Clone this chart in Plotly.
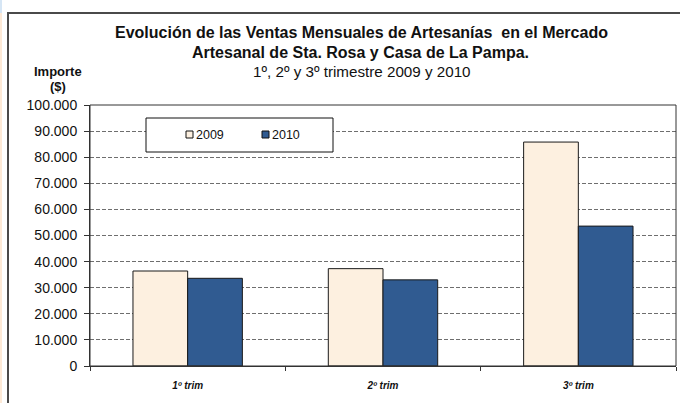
import plotly.graph_objects as go

# Data
categories = ['1º trim', '2º trim', '3º trim']
ventas_2009 = [36400, 37300, 85800]
ventas_2010 = [33600, 33000, 53600]
years = ['2009', '2010']
colors = ['#fdf0e0', '#305b91']
y_ticks = list(range(0, 100001, 10000))
y_ticklabels = ['0' if v == 0 else f'{v:,}'.replace(',', '.') for v in y_ticks]

W, H = 680, 403
L, R, T, B = 90, 4, 105, 37
PW, PH = W - L - R, H - T - B


def px_x(x):
    return (x - L) / PW


def px_y(y):
    return 1 - (y - T) / PH


FONT = 'Liberation Sans, Arial, sans-serif'

fig = go.Figure()
for name, vals, col in zip(years, [ventas_2009, ventas_2010], colors):
    fig.add_trace(go.Bar(
        x=categories, y=vals, name=name,
        marker=dict(color=col, line=dict(color='#1a1a1a', width=1)),
        showlegend=False,
    ))

shapes = [
    # outer chart frame
    dict(type='rect', xref='paper', yref='paper',
         x0=px_x(8), x1=px_x(690), y0=px_y(13), y1=px_y(420),
         line=dict(color='#4a4a4a', width=2), layer='below'),
    # left page strip
    dict(type='rect', xref='paper', yref='paper',
         x0=px_x(0), x1=px_x(2), y0=px_y(13), y1=px_y(403),
         line=dict(width=0), fillcolor='#fde9d6', layer='below'),
    dict(type='rect', xref='paper', yref='paper',
         x0=px_x(0), x1=px_x(2), y0=px_y(0), y1=px_y(13),
         line=dict(width=0), fillcolor='#d6e6f5', layer='below'),
    # plot area border
    dict(type='rect', xref='paper', yref='paper', x0=0, x1=1, y0=0, y1=1,
         line=dict(color='#333333', width=1)),
    # legend box
    dict(type='rect', xref='paper', yref='paper',
         x0=px_x(146), x1=px_x(333), y0=px_y(118), y1=px_y(152),
         line=dict(color='#111111', width=1), fillcolor='white'),
]
annotations = [
    dict(text='<b>Evolución de las Ventas Mensuales de Artesanías  en el Mercado</b>',
         x=px_x(361), y=px_y(33), font=dict(size=16)),
    dict(text='<b>Artesanal de Sta. Rosa y Casa de La Pampa.</b>',
         x=px_x(360), y=px_y(52), font=dict(size=16)),
    dict(text='1º, 2º y 3º trimestre 2009 y 2010',
         x=px_x(362), y=px_y(71), font=dict(size=15.2)),
    dict(text='<b>Importe</b>', x=px_x(58), y=px_y(71), font=dict(size=13)),
    dict(text='<b>($)</b>', x=px_x(58), y=px_y(86), font=dict(size=13)),
]

# legend entries
leg_x = [186, 262]
for name, col, lx in zip(years, colors, leg_x):
    shapes.append(dict(type='rect', xref='paper', yref='paper',
                       x0=px_x(lx), x1=px_x(lx + 7), y0=px_y(131), y1=px_y(138),
                       line=dict(color='#111111', width=1), fillcolor=col))
    annotations.append(dict(text=name, x=px_x(lx + 8), y=px_y(135), xanchor='left',
                            font=dict(size=12.5)))

for a in annotations:
    a.update(xref='paper', yref='paper', showarrow=False)
    a.setdefault('xanchor', 'center')
    a['yanchor'] = 'middle'
    a['font'].update(family=FONT, color='#111111')

fig.update_layout(
    width=W, height=H,
    margin=dict(l=L, r=R, t=T, b=B),
    paper_bgcolor='white', plot_bgcolor='white',
    font=dict(family=FONT, size=12, color='#111111'),
    barmode='group', bargap=0.44, bargroupgap=0,
    shapes=shapes, annotations=annotations,
)
fig.update_xaxes(
    showline=True, linecolor='#333333', linewidth=1,
    ticks='outside', ticklen=4, tickcolor='#333333', tickson='boundaries',
    tickfont=dict(size=10, family=FONT), showgrid=False,
    tickprefix='<b><i>', ticksuffix='</i></b>', ticklabelstandoff=10,
)
fig.update_yaxes(
    range=[0, 100000], tickvals=y_ticks, ticktext=y_ticklabels,
    showline=True, linecolor='#333333', linewidth=1,
    ticks='outside', ticklen=5, tickcolor='#333333',
    showgrid=True, gridcolor='#6e6e6e', griddash='4px,2px', gridwidth=1,
    tickfont=dict(size=14, family=FONT), ticklabelstandoff=4,
    zeroline=False,
)

# the page body has a default margin; drop it so the figure sits at 0,0
fig.write_html('out.html', config={'displayModeBar': False},
               post_script="document.body.style.margin='0';")
